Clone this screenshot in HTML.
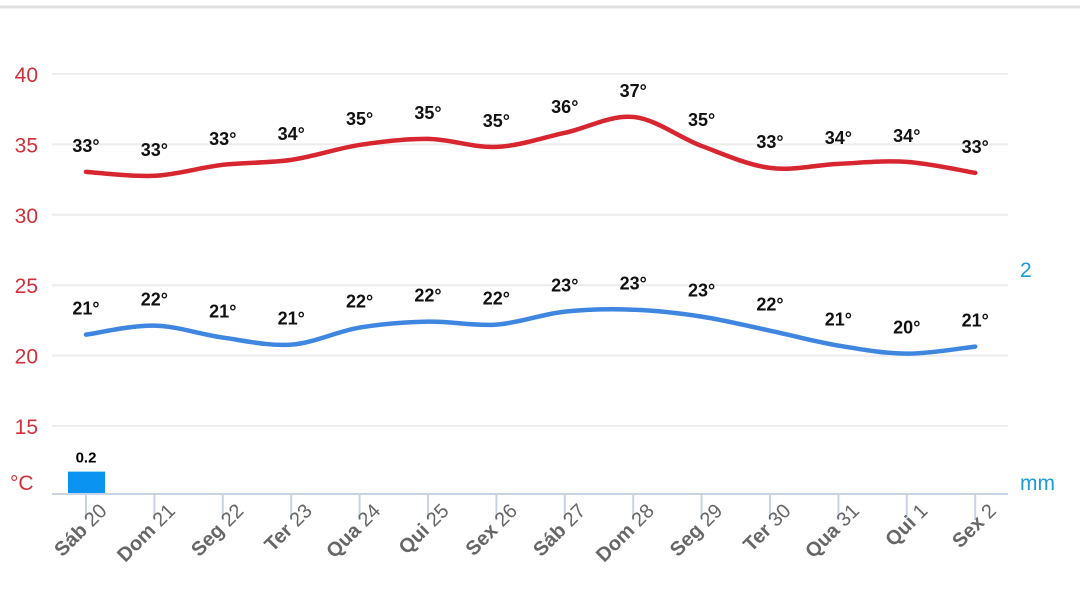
<!DOCTYPE html>
<html><head><meta charset="utf-8"><style>
body{margin:0;background:#fff;width:1080px;height:610px;overflow:hidden;font-family:"Liberation Sans",Arial,sans-serif}
</style></head><body>
<svg width="1080" height="610" id="c" xmlns="http://www.w3.org/2000/svg"></svg>
<script>
const days=["Sáb","Dom","Seg","Ter","Qua","Qui","Sex","Sáb","Dom","Seg","Ter","Qua","Qui","Sex"];
const dates=["20","21","22","23","24","25","26","27","28","29","30","31","1","2"];
const maxT=[33.05,32.77,33.55,33.9,34.96,35.39,34.82,35.82,36.95,34.89,33.33,33.62,33.76,32.98];
const maxLabels=[33,33,33,34,35,35,35,36,37,35,33,34,34,33];
const minT=[21.49,22.13,21.28,20.78,21.99,22.41,22.2,23.12,23.26,22.77,21.77,20.71,20.14,20.64];
const minLabels=[21,22,21,21,22,22,22,23,23,23,22,21,20,21];
const rain=[0.2,0,0,0,0,0,0,0,0,0,0,0,0,0];
const yTicks=[15,20,25,30,35,40];
const NS="http://www.w3.org/2000/svg";
const svg=document.getElementById('c');
const X=i=>86+i*68.4;
const Y=t=>74+(40-t)*14.08;
const R=m=>494-m*112;
function el(tag,attrs,text){const e=document.createElementNS(NS,tag);for(const k in attrs)e.setAttribute(k,attrs[k]);if(text!==undefined)e.textContent=text;svg.appendChild(e);return e;}
let e=el('line',{x1:0,y1:7,x2:1080,y2:7,stroke:'#e0e0e0','stroke-width':3});


yTicks.forEach(t=>{
 let g=el('line',{x1:52,x2:1008,y1:Y(t),y2:Y(t),stroke:'#ececec','stroke-width':2});
 
 
 let l=el('text',{x:38,y:Y(t)+8,'text-anchor':'end','font-size':21,fill:'#d0303a'},t);
 
 
});
e=el('text',{x:10,y:490,'font-size':21,fill:'#d0303a'},'°C');


e=el('text',{x:1020,y:277,'font-size':21,fill:'#1a9ad6'},'2');


e=el('text',{x:1020,y:490,'font-size':21,fill:'#1a9ad6'},'mm');


rain.forEach((m,i)=>{
 if(m<=0)return;
 let b=el('rect',{x:X(i)-18,y:R(m),width:37,height:494-R(m),fill:'#0a93f0'});
 
 
 let t=el('text',{x:X(i),y:R(m)-9,'text-anchor':'middle','font-size':15,'font-weight':'bold',fill:'#000'},m);
 
 
});
e=el('line',{x1:52,x2:1008,y1:494,y2:494,stroke:'#c8d4e6','stroke-width':2});


function smooth(vals){
 const p=vals.map((v,i)=>[X(i),Y(v)]);
 let d='M'+p[0][0]+','+p[0][1];
 for(let i=0;i<p.length-1;i++){
  const p0=p[i-1]||p[i],p1=p[i],p2=p[i+1],p3=p[i+2]||p2;
  const c1=[p1[0]+(p2[0]-p0[0])/6,p1[1]+(p2[1]-p0[1])/6];
  const c2=[p2[0]-(p3[0]-p1[0])/6,p2[1]-(p3[1]-p1[1])/6];
  d+=' C'+c1+' '+c2+' '+p2;
 }
 return d;
}
e=el('path',{d:smooth(maxT),fill:'none',stroke:'#d7262f','stroke-width':4.5,'stroke-linecap':'round'});


e=el('path',{d:smooth(minT),fill:'none',stroke:'#3f86e0','stroke-width':4.5,'stroke-linecap':'round'});


maxT.forEach((v,i)=>{
 let t=el('text',{x:X(i),y:Y(v)-20,'text-anchor':'middle','font-size':18,'font-weight':'bold',fill:'#111'},maxLabels[i]+'°');
 
 
});
minT.forEach((v,i)=>{
 let t=el('text',{x:X(i),y:Y(v)-20,'text-anchor':'middle','font-size':18,'font-weight':'bold',fill:'#111'},minLabels[i]+'°');
 
 
});
days.forEach((d,i)=>{
 const x=X(i);
 let tk=el('line',{x1:x,x2:x,y1:494,y2:520,stroke:'#c8d4e6','stroke-width':2});
 
 
 let t=el('text',{transform:`translate(${x+22},${512}) rotate(-45)`,'text-anchor':'end','font-size':20,fill:'#666'});
 
 
 const a=document.createElementNS(NS,'tspan');a.setAttribute('font-weight','bold');a.textContent=d+' ';
 const b=document.createElementNS(NS,'tspan');b.textContent=dates[i];
 t.appendChild(a);t.appendChild(b);
});
</script>
</body></html>
